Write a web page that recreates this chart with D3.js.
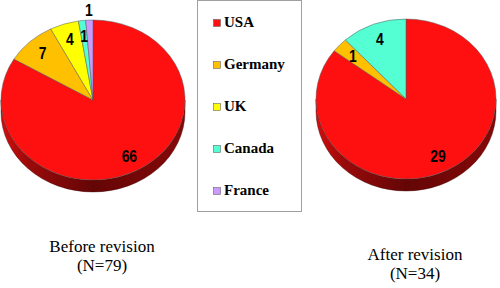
<!DOCTYPE html>
<html>
<head>
<meta charset="utf-8">
<script src="https://cdn.jsdelivr.net/npm/d3@7"></script>
<style>
  html, body { margin: 0; padding: 0; background: #fff; }
  svg { display: block; }
  .serif { font-family: "Liberation Serif", "Times New Roman", "DejaVu Serif", serif; }
  .num { font-family: "Liberation Sans", Arial, sans-serif; }
</style>
</head>
<body>
<svg id="chart" width="500" height="288"></svg>
<script>
// Data
const countries = ['USA', 'Germany', 'UK', 'Canada', 'France'];
const countryColors = ['#fe1010', '#ffc000', '#ffff00', '#55ffd4', '#cc99ff'];
const beforeValues = [66, 7, 4, 1, 1];
const afterValues = [29, 1, 0, 4, 0];
const pieTitles = ['Before revision', 'After revision'];

const svg = d3.select('#chart');
const defs = svg.append('defs');

// Side gradients (one per color)
countryColors.forEach((c, i) => {
  const g = defs.append('linearGradient')
    .attr('id', 'side' + i)
    .attr('x1', '0%').attr('x2', '100%').attr('y1', '0%').attr('y2', '0%');
  g.append('stop').attr('offset', '0%').attr('stop-color', d3.color(c).darker(0.5));
  g.append('stop').attr('offset', '15%').attr('stop-color', d3.color(c).darker(1.4));
  g.append('stop').attr('offset', '50%').attr('stop-color', d3.color(c).darker(2.6));
  g.append('stop').attr('offset', '100%').attr('stop-color', d3.color(c).darker(1.8));
});

const pie = d3.pie().sort(null).startAngle(0).endAngle(2 * Math.PI);

// Draw a tilted 3D pie with its centre at (cx, cy)
function drawPie(values, cx, cy, rx, ry, depth, title, titleY) {
  const g = svg.append('g');
  const arcs = pie(values).map((d, i) => ({ ...d, i }));
  const pt = (a, k = 1) => [cx + rx * k * Math.sin(a), cy - ry * k * Math.cos(a)];

  // side walls (front half only)
  arcs.forEach(d => {
    if (d.value === 0) return;
    const s = Math.max(d.startAngle, Math.PI / 2);
    const e = Math.min(d.endAngle, 3 * Math.PI / 2);
    if (e <= s) return;
    const [x0, y0] = pt(s), [x1, y1] = pt(e);
    const path = `M${x0},${y0} A${rx},${ry} 0 0 1 ${x1},${y1} L${x1},${y1 + depth} A${rx},${ry} 0 0 0 ${x0},${y0 + depth} Z`;
    g.append('path')
      .attr('d', path)
      .attr('fill', `url(#side${d.i})`)
      .attr('stroke', '#400000')
      .attr('stroke-width', 0.4);
  });

  // top faces
  arcs.forEach(d => {
    if (d.value === 0) return;
    const [x0, y0] = pt(d.startAngle), [x1, y1] = pt(d.endAngle);
    const large = d.endAngle - d.startAngle > Math.PI ? 1 : 0;
    g.append('path')
      .attr('d', `M${cx},${cy} L${x0},${y0} A${rx},${ry} 0 ${large} 1 ${x1},${y1} Z`)
      .attr('fill', countryColors[d.i])
      .attr('stroke', '#555')
      .attr('stroke-width', 0.5);
  });

  // value labels (narrowed bold digits)
  let prev = null;
  arcs.forEach(d => {
    if (d.value === 0) return;
    const mid = (d.startAngle + d.endAngle) / 2;
    let [x, y] = pt(mid, 0.8);
    if (prev && Math.hypot(x - prev[0], y - prev[1]) < 12) [x, y] = pt(mid, 1.13);
    prev = [x, y];
    g.append('text')
      .attr('class', 'num')
      .attr('transform', `translate(${x},${y}) scale(0.82,1)`)
      .attr('text-anchor', 'middle')
      .attr('dominant-baseline', 'central')
      .attr('font-weight', 'bold')
      .attr('font-size', 17)
      .attr('fill', '#000')
      .text(d.value);
  });

  // caption
  const cap = svg.append('text')
    .attr('class', 'serif')
    .attr('text-anchor', 'middle')
    .attr('font-size', 17)
    .attr('fill', '#000');
  cap.append('tspan').attr('x', cx + 9).attr('y', titleY).text(title);
  cap.append('tspan').attr('x', cx + 9).attr('dy', 19).text(`(N=${d3.sum(values)})`);
}

drawPie(beforeValues, 93, 100, 92, 80, 12, pieTitles[0], 252);
drawPie(afterValues, 406, 99, 90, 80, 12, pieTitles[1], 260);

// Legend
svg.append('rect')
  .attr('x', 197.5).attr('y', 0.5)
  .attr('width', 104).attr('height', 211)
  .attr('fill', '#fff')
  .attr('stroke', '#a0a0a0');

const legend = svg.append('g');
countries.forEach((name, i) => {
  const y = 27 + i * 42;
  legend.append('rect')
    .attr('x', 213.5).attr('y', y - 7.5)
    .attr('width', 7).attr('height', 7)
    .attr('fill', countryColors[i])
    .attr('stroke', '#666')
    .attr('stroke-width', 0.6);
  legend.append('text')
    .attr('class', 'serif')
    .attr('x', 224).attr('y', y)
    .attr('font-weight', 'bold')
    .attr('font-size', 15)
    .attr('fill', '#000')
    .text(name);
});
</script>
</body>
</html>
